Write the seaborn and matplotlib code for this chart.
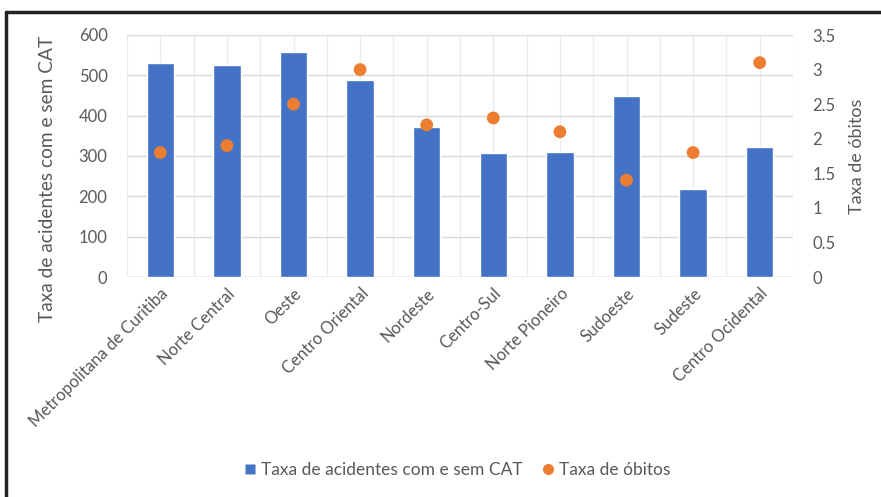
import matplotlib
matplotlib.use("Agg")
import matplotlib.pyplot as plt
import seaborn as sns
import numpy as np
import pandas as pd
from matplotlib.lines import Line2D

categories = ["Metropolitana de Curitiba", "Norte Central", "Oeste", "Centro Oriental",
              "Nordeste", "Centro-Sul", "Norte Pioneiro", "Sudoeste", "Sudeste",
              "Centro Ocidental"]
acidentes = [530, 525, 558, 488, 372, 307, 310, 449, 218, 322]
obitos = [1.8, 1.9, 2.5, 3.0, 2.2, 2.3, 2.1, 1.4, 1.8, 3.1]
left_ticks = [0, 100, 200, 300, 400, 500, 600]
right_ticks = [0, 0.5, 1, 1.5, 2, 2.5, 3, 3.5]
right_labels = ["0", "0.5", "1", "1.5", "2", "2.5", "3", "3.5"]

sns.set_theme(style="white")
plt.rcParams["font.family"] = ["Lato", "DejaVu Sans"]
TXT = "#595959"
BLUE = "#4472C4"
ORANGE = "#ED7D31"

df = pd.DataFrame({"reg": categories, "ac": acidentes, "ob": obitos})

fig = plt.figure(figsize=(8.81, 4.97), dpi=100)
ax = fig.add_axes([127/881, 1-277/497, (793-127)/881, (277-35)/497])
sns.barplot(data=df, x="reg", y="ac", ax=ax, color=BLUE, width=0.41, saturation=1, zorder=3)
ax.set_xlim(-0.5, 9.5)
ax.set_ylim(0, 600)
ax.set_yticks(left_ticks)
ax.set_yticklabels([str(t) for t in left_ticks], color=TXT, fontsize=12)
ax.set_xticks(range(len(categories)))
ax.set_xticklabels(categories, rotation=45, ha="right", rotation_mode="anchor",
                   color=TXT, fontsize=12)
ax.set_xticks(np.arange(-0.5, 10, 1.0), minor=True)
ax.tick_params(axis="both", which="both", length=0)
ax.tick_params(axis="x", pad=6)
ax.tick_params(axis="y", pad=14)
ax.grid(axis="y", color="#D9D9D9", linewidth=1, zorder=0)
ax.grid(axis="x", which="both", color="#EBEBEB", linewidth=1, zorder=0)
for s in ax.spines.values():
    s.set_visible(False)
ax.axhline(0, color="#D9D9D9", linewidth=1, zorder=2)
ax.set_xlabel("")
ax.set_ylabel("Taxa de acidentes com e sem CAT", color=TXT, fontsize=13.8, va="center")
ax.yaxis.set_label_coords(-0.119, 0.405)

ax2 = ax.twinx()
sns.scatterplot(data=df, x="reg", y="ob", ax=ax2, color=ORANGE, s=85, edgecolor="none", zorder=4)
ax2.set_ylim(0, 3.5)
ax2.set_yticks(right_ticks)
ax2.set_yticklabels(right_labels, color=TXT, fontsize=12)
ax2.tick_params(axis="y", length=0, pad=14)
for s in ax2.spines.values():
    s.set_visible(False)
ax2.set_ylabel("Taxa de óbitos", color=TXT, fontsize=13, labelpad=10)
ax2.set_xlim(-0.5, 9.5)

handles = [Line2D([], [], marker="s", color="none", markerfacecolor=BLUE, markeredgecolor="none", markersize=7),
           Line2D([], [], marker="o", color="none", markerfacecolor=ORANGE, markeredgecolor="none", markersize=8)]
fig.legend(handles, ["Taxa de acidentes com e sem CAT", "Taxa de óbitos"],
           loc="center", bbox_to_anchor=(456/881, 1-470/497), ncol=2, frameon=False,
           fontsize=12.5, labelcolor=TXT, handletextpad=0.1, columnspacing=1.0, handlelength=1)

fig.add_artist(Line2D([6/881, 1], [1-12/497, 1-12/497], color="#222222", linewidth=2.5, transform=fig.transFigure))
fig.add_artist(Line2D([6/881, 6/881], [0, 1-12/497], color="#222222", linewidth=2.5, transform=fig.transFigure))

fig.savefig("out.png", dpi=100, facecolor="white")
